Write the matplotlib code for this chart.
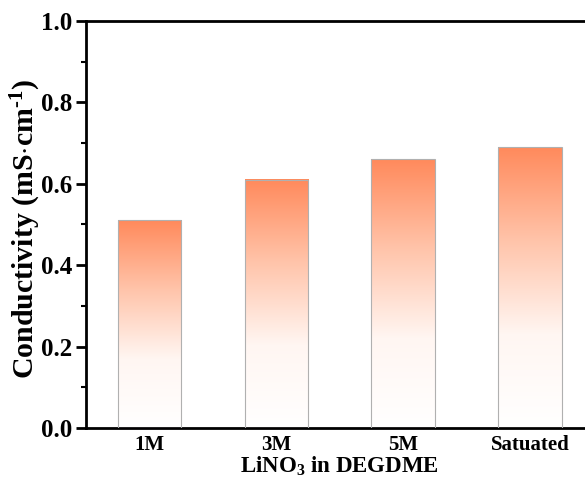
import numpy as np
import matplotlib.pyplot as plt
from matplotlib.colors import LinearSegmentedColormap

# conductivity of LiNO3 solutions in DEGDME
labels = ['1M', '3M', '5M', 'Satuated']
conductivity = [0.51, 0.61, 0.66, 0.69]

plt.rcParams['font.family'] = ['Liberation Serif', 'DejaVu Serif']
plt.rcParams['font.weight'] = 'bold'
plt.rcParams['mathtext.fontset'] = 'custom'
plt.rcParams['mathtext.rm'] = 'Liberation Serif:bold'
plt.rcParams['mathtext.default'] = 'rm'

fig = plt.figure(figsize=(5.85, 4.79), dpi=100)
ax = fig.add_axes([86/585, 1 - 428/479, 507.5/585, 407/479])

grad = LinearSegmentedColormap.from_list('orange_fade', ['#ffffff', '#fff6f2', '#ffc4aa', '#ff8a5c'])
x = np.arange(1, len(labels) + 1)
width = 0.5
bars = ax.bar(x, conductivity, width, color='none', edgecolor='#b0b0b0', linewidth=0.8, zorder=3)
for b in bars:
    x0, y0 = b.get_x(), b.get_y()
    h = b.get_height()
    img = np.linspace(0, 1, 256).reshape(-1, 1)
    ax.imshow(img, cmap=grad, origin='lower', aspect='auto',
              extent=[x0, x0 + b.get_width(), y0, y0 + h], zorder=2)

ax.set_xlim(0.5, 4.5)
ax.set_ylim(0, 1.0)
ax.set_xticks(x)
ax.set_xticklabels(labels, fontsize=15, fontweight='bold')
ax.set_yticks(np.arange(0, 1.01, 0.2))
ax.set_yticks(np.arange(0.1, 1.0, 0.2), minor=True)
ax.set_yticklabels(['%.1f' % v for v in np.arange(0, 1.01, 0.2)], fontsize=18, fontweight='bold')
ax.tick_params(axis='x', length=0, pad=5)
ax.tick_params(axis='y', which='major', direction='out', length=7, width=2, pad=3)
ax.tick_params(axis='y', which='minor', direction='out', length=3.5, width=1.5)

for s in ax.spines.values():
    s.set_linewidth(2)

ax.set_xlabel(r'LiNO$_3$ in DEGDME', fontsize=16.5, fontweight='bold', labelpad=0)
ax.set_ylabel(r'Conductivity (mS$\cdot$cm$^{\text{-1}}$)', fontsize=21.5, fontweight='bold')
ax.yaxis.set_label_coords(-0.084, 0.49)

fig.savefig('out.png', dpi=100)
